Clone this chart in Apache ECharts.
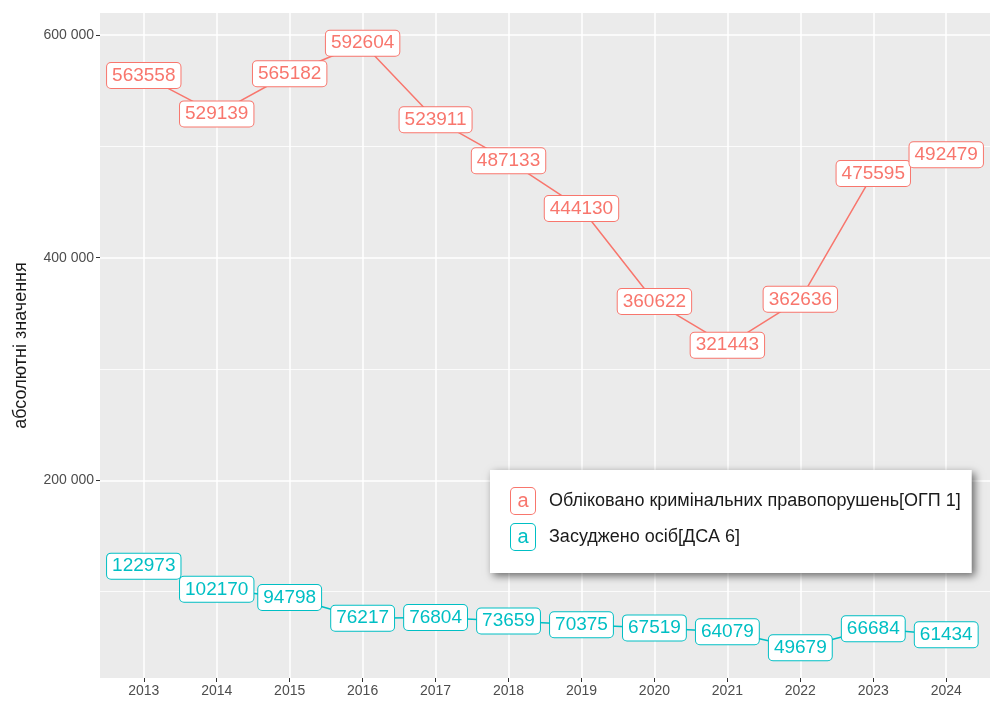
<!DOCTYPE html>
<html>
<head>
<meta charset="utf-8">
<script src="https://cdn.jsdelivr.net/npm/echarts@6/dist/echarts.min.js"></script>
<style>
  html, body { margin: 0; padding: 0; background: #fff; }
  #chart { width: 991px; height: 707px; }
</style>
</head>
<body>
<div id="chart"></div>
<script>
const years = [2013, 2014, 2015, 2016, 2017, 2018, 2019, 2020, 2021, 2022, 2023, 2024]
const crimes = [563558, 529139, 565182, 592604, 523911, 487133, 444130, 360622, 321443, 362636, 475595, 492479]
const convicted = [122973, 102170, 94798, 76217, 76804, 73659, 70375, 67519, 64079, 49679, 66684, 61434]
const majorTicks = [200000, 400000, 600000]
const minorTicks = [100000, 300000, 500000]
const seriesNames = ['Обліковано кримінальних правопорушень[ОГП 1]', 'Засуджено осіб[ДСА 6]']
const colors = ['#F8766D', '#00BFC4']

const yMin = 22533
const yMax = 619750
const font = '"Liberation Sans", Arial, sans-serif'

const fmt = v => String(v).replace(/\B(?=(\d{3})+(?!\d))/g, ' ')

const makeSeries = (name, values, color) => ({
  name,
  type: 'line',
  data: years.map((y, i) => [y, values[i]]),
  symbol: 'circle',
  symbolSize: 1,
  itemStyle: { color },
  lineStyle: { color, width: 1.5 },
  label: {
    show: true,
    position: 'inside',
    formatter: p => p.value[1],
    color,
    fontFamily: font,
    fontSize: 19,
    lineHeight: 20,
    backgroundColor: '#fff',
    borderColor: color,
    borderWidth: 1,
    borderRadius: 4,
    padding: [3, 5, 2, 5],
  },
  emphasis: { disabled: true },
  z: 3,
})

const keyStyle = color => ({
  color, fontSize: 20, borderColor: color, borderWidth: 1, borderRadius: 4,
  backgroundColor: '#fff', width: 22, height: 26, lineHeight: 26, align: 'center', padding: [0, 1, 0, 1],
})

const chart = echarts.init(document.getElementById('chart'))

chart.setOption({
  animation: false,
  textStyle: { fontFamily: font },
  grid: {
    left: 100,
    right: 1,
    top: 13,
    bottom: 29,
    show: true,
    backgroundColor: '#EBEBEB',
    borderWidth: 0,
  },
  legend: {
    orient: 'vertical',
    left: 490,
    top: 470,
    padding: [17, 11, 22, 16],
    itemGap: 8,
    icon: 'none',
    itemWidth: 0,
    itemHeight: 0,
    backgroundColor: '#fff',
    shadowColor: 'rgba(0,0,0,0.55)',
    shadowBlur: 8,
    shadowOffsetX: 3,
    shadowOffsetY: 3,
    data: seriesNames,
    formatter: name => (name === seriesNames[0] ? '{k0|a}' : '{k1|a}') + '{t|' + name + '}',
    textStyle: {
      rich: {
        k0: keyStyle(colors[0]),
        k1: keyStyle(colors[1]),
        t: { color: '#1A1A1A', fontSize: 18, lineHeight: 30, padding: [0, 0, 0, 14] },
      },
    },
  },
  xAxis: {
    type: 'value',
    min: 2012.4,
    max: 2024.6,
    axisLine: { show: false },
    axisTick: { show: true, length: 4, lineStyle: { color: '#333' }, customValues: years },
    axisLabel: { color: '#4D4D4D', fontSize: 14, margin: 6, customValues: years, formatter: v => String(v) },
    splitLine: { show: true, lineStyle: { color: '#fff', width: 1.5 } },
  },
  yAxis: [
    {
      type: 'value',
      min: yMin,
      max: yMax,
      name: 'абсолютні значення',
      nameLocation: 'middle',
      nameGap: 70,
      nameTextStyle: { color: '#1A1A1A', fontSize: 18 },
      axisLine: { show: false },
      axisTick: { show: true, length: 4, lineStyle: { color: '#333' }, customValues: majorTicks },
      axisLabel: { color: '#4D4D4D', fontSize: 14, margin: 6, customValues: majorTicks, formatter: fmt },
      splitLine: { show: true, lineStyle: { color: '#fff', width: 1.5 } },
    },
    {
      type: 'value',
      min: yMin,
      max: yMax,
      position: 'left',
      axisLine: { show: false },
      axisTick: { show: false, customValues: minorTicks },
      axisLabel: { show: false, customValues: minorTicks },
      splitLine: { show: true, lineStyle: { color: '#fff', width: 0.8 } },
    },
  ],
  series: [
    makeSeries(seriesNames[0], crimes, colors[0]),
    makeSeries(seriesNames[1], convicted, colors[1]),
  ],
})
</script>
</body>
</html>
